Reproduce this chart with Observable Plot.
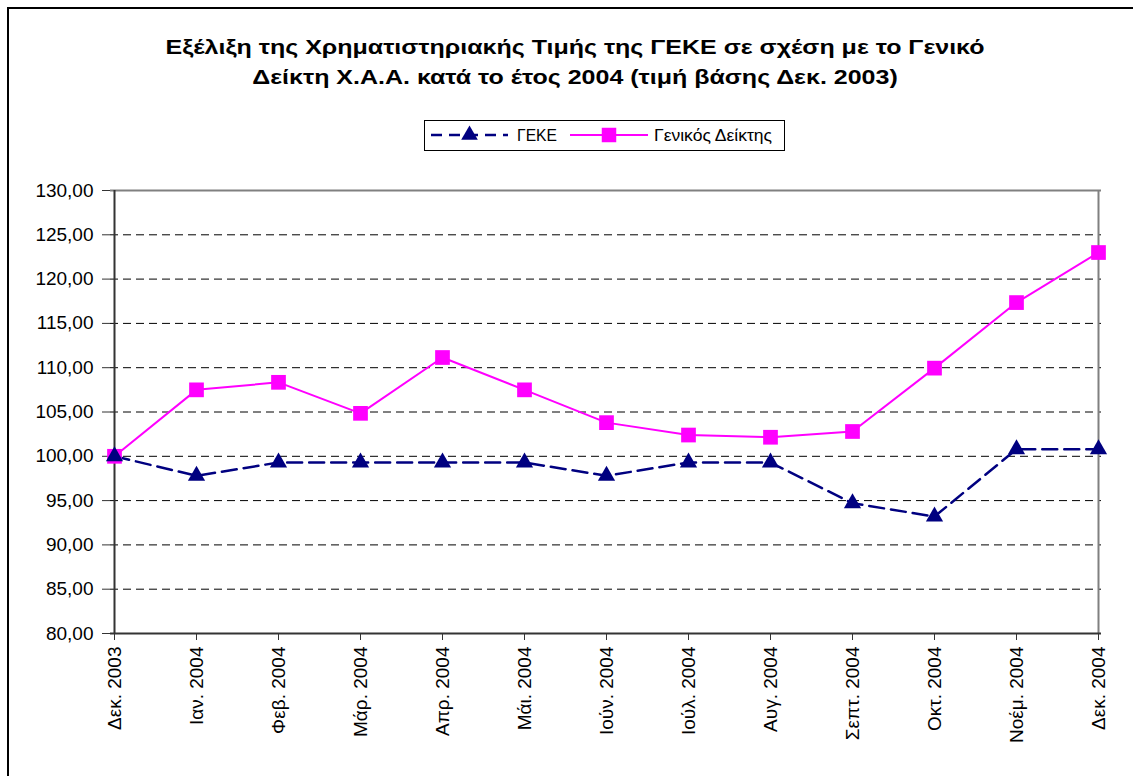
<!DOCTYPE html>
<html><head><meta charset="utf-8">
<script src="https://cdn.jsdelivr.net/npm/d3@7"></script>
<script src="https://cdn.jsdelivr.net/npm/@observablehq/plot@0.6"></script>
<style>
html,body{margin:0;padding:0;background:#fff;}
#wrap{position:relative;width:1133px;height:776px;overflow:hidden;font-family:"Liberation Sans",Arial,sans-serif;}
#frame{position:absolute;left:7px;top:7px;width:1200px;height:900px;border-left:2px solid #000;border-top:2px solid #000;box-sizing:border-box;}
#title{position:absolute;left:0;width:1150px;top:32px;text-align:center;font-weight:bold;font-size:21px;line-height:30px;color:#000;transform:scaleX(1.19);transform-origin:575px 0;}
#legend{position:absolute;left:424px;top:120px;width:361px;height:31px;border:1px solid #000;box-sizing:border-box;}
#chart{position:absolute;left:0;top:180px;}
</style></head>
<body><div id="wrap"><div id="frame"></div>
<div id="title">Εξέλιξη της Χρηματιστηριακής Τιμής της ΓΕΚΕ σε σχέση με το Γενικό<br>Δείκτη Χ.Α.Α. κατά το έτος 2004 (τιμή βάσης Δεκ. 2003)</div>
<div id="legend"></div>
<div id="chart"></div></div>
<script>
const months = ["Δεκ. 2003","Ιαν. 2004","Φεβ. 2004","Μάρ. 2004","Απρ. 2004","Μάι. 2004","Ιούν. 2004","Ιούλ. 2004","Αυγ. 2004","Σεπτ. 2004","Οκτ. 2004","Νοέμ. 2004","Δεκ. 2004"];
const geke = [100, 97.8, 99.3, 99.3, 99.3, 99.3, 97.8, 99.3, 99.3, 94.7, 93.2, 100.8, 100.8];
const geniko = [100, 107.5, 108.35, 104.85, 111.15, 107.5, 103.8, 102.4, 102.15, 102.8, 109.95, 117.35, 123.0];
const seriesNames = ["ΓΕΚΕ", "Γενικός Δείκτης"];
const yTicks = [80, 85, 90, 95, 100, 105, 110, 115, 120, 125, 130];
const gridTicks = [85, 90, 95, 100, 105, 110, 115, 120, 125];

const dG = months.map((m, i) => ({m, v: geke[i]}));
const dN = months.map((m, i) => ({m, v: geniko[i]}));
const fmt = v => v.toFixed(2).replace(".", ",");
const NAVY = "#000080", MAG = "#FF00FF";

const chart = Plot.plot({
  width: 1133, height: 596,
  marginLeft: 110, marginRight: 32, marginTop: 10, marginBottom: 143,
  style: {fontFamily: "Liberation Sans, Arial, sans-serif", fontSize: "19px", color: "#000", background: "transparent"},
  x: {type: "point", domain: months, padding: 0, label: null},
  y: {domain: [80, 130], label: null},
  marks: [
    Plot.ruleY(gridTicks, {stroke: "#000", strokeDasharray: "8,5", strokeWidth: 1}),
    Plot.ruleY([130], {stroke: "#808080", strokeWidth: 2}),
    Plot.ruleX([months[months.length - 1]], {stroke: "#808080", strokeWidth: 2}),
    Plot.ruleX([months[0]], {stroke: "#333", strokeWidth: 2}),
    Plot.ruleY([80], {stroke: "#333", strokeWidth: 2}),
    Plot.axisY(yTicks, {tickFormat: fmt, tickSize: 8, tickPadding: 9, stroke: "#333", fontSize: 19}),
    Plot.axisX(months, {tickSize: 7, tickRotate: -90, tickPadding: 6, stroke: "#333", fontSize: 19, textAnchor: "end"}),
    Plot.line(dN, {x: "m", y: "v", stroke: MAG, strokeWidth: 2}),
    Plot.line(dG, {x: "m", y: "v", stroke: NAVY, strokeWidth: 2.5, strokeDasharray: "15,7"}),
    Plot.dot(dN, {x: "m", y: "v", symbol: "square", r: 8.3, fill: MAG, stroke: "none"}),
    Plot.dot(dG, {x: "m", y: "v", symbol: "triangle", r: 6.4, fill: NAVY, stroke: "none"})
  ]
});
document.getElementById("chart").appendChild(chart);

// legend
const lg = d3.select("#legend").append("svg").attr("width", 359).attr("height", 29)
  .style("font-family", "Liberation Sans, Arial, sans-serif");
const items = [
  {name: seriesNames[0], color: NAVY, dash: "11,7", sym: d3.symbolTriangle, size: 120, w: 2.5, x1: 6, x2: 83, tx: 92},
  {name: seriesNames[1], color: MAG, dash: null, sym: d3.symbolSquare, size: 210, w: 2, x1: 145, x2: 223, tx: 229}
];
items.forEach(it => {
  const line = lg.append("line").attr("x1", it.x1).attr("x2", it.x2).attr("y1", 14).attr("y2", 14)
    .attr("stroke", it.color).attr("stroke-width", it.w);
  if (it.dash) line.attr("stroke-dasharray", it.dash);
  lg.append("path").attr("d", d3.symbol(it.sym, it.size)()).attr("transform", `translate(${(it.x1 + it.x2) / 2},14)`)
    .attr("fill", it.color);
  lg.append("text").attr("x", it.tx).attr("y", 20).attr("font-size", 16).attr("fill", "#000")
    .attr("textLength", it.name.length > 5 ? 118 : 40).attr("lengthAdjust", "spacingAndGlyphs").text(it.name);
});
</script></body></html>
